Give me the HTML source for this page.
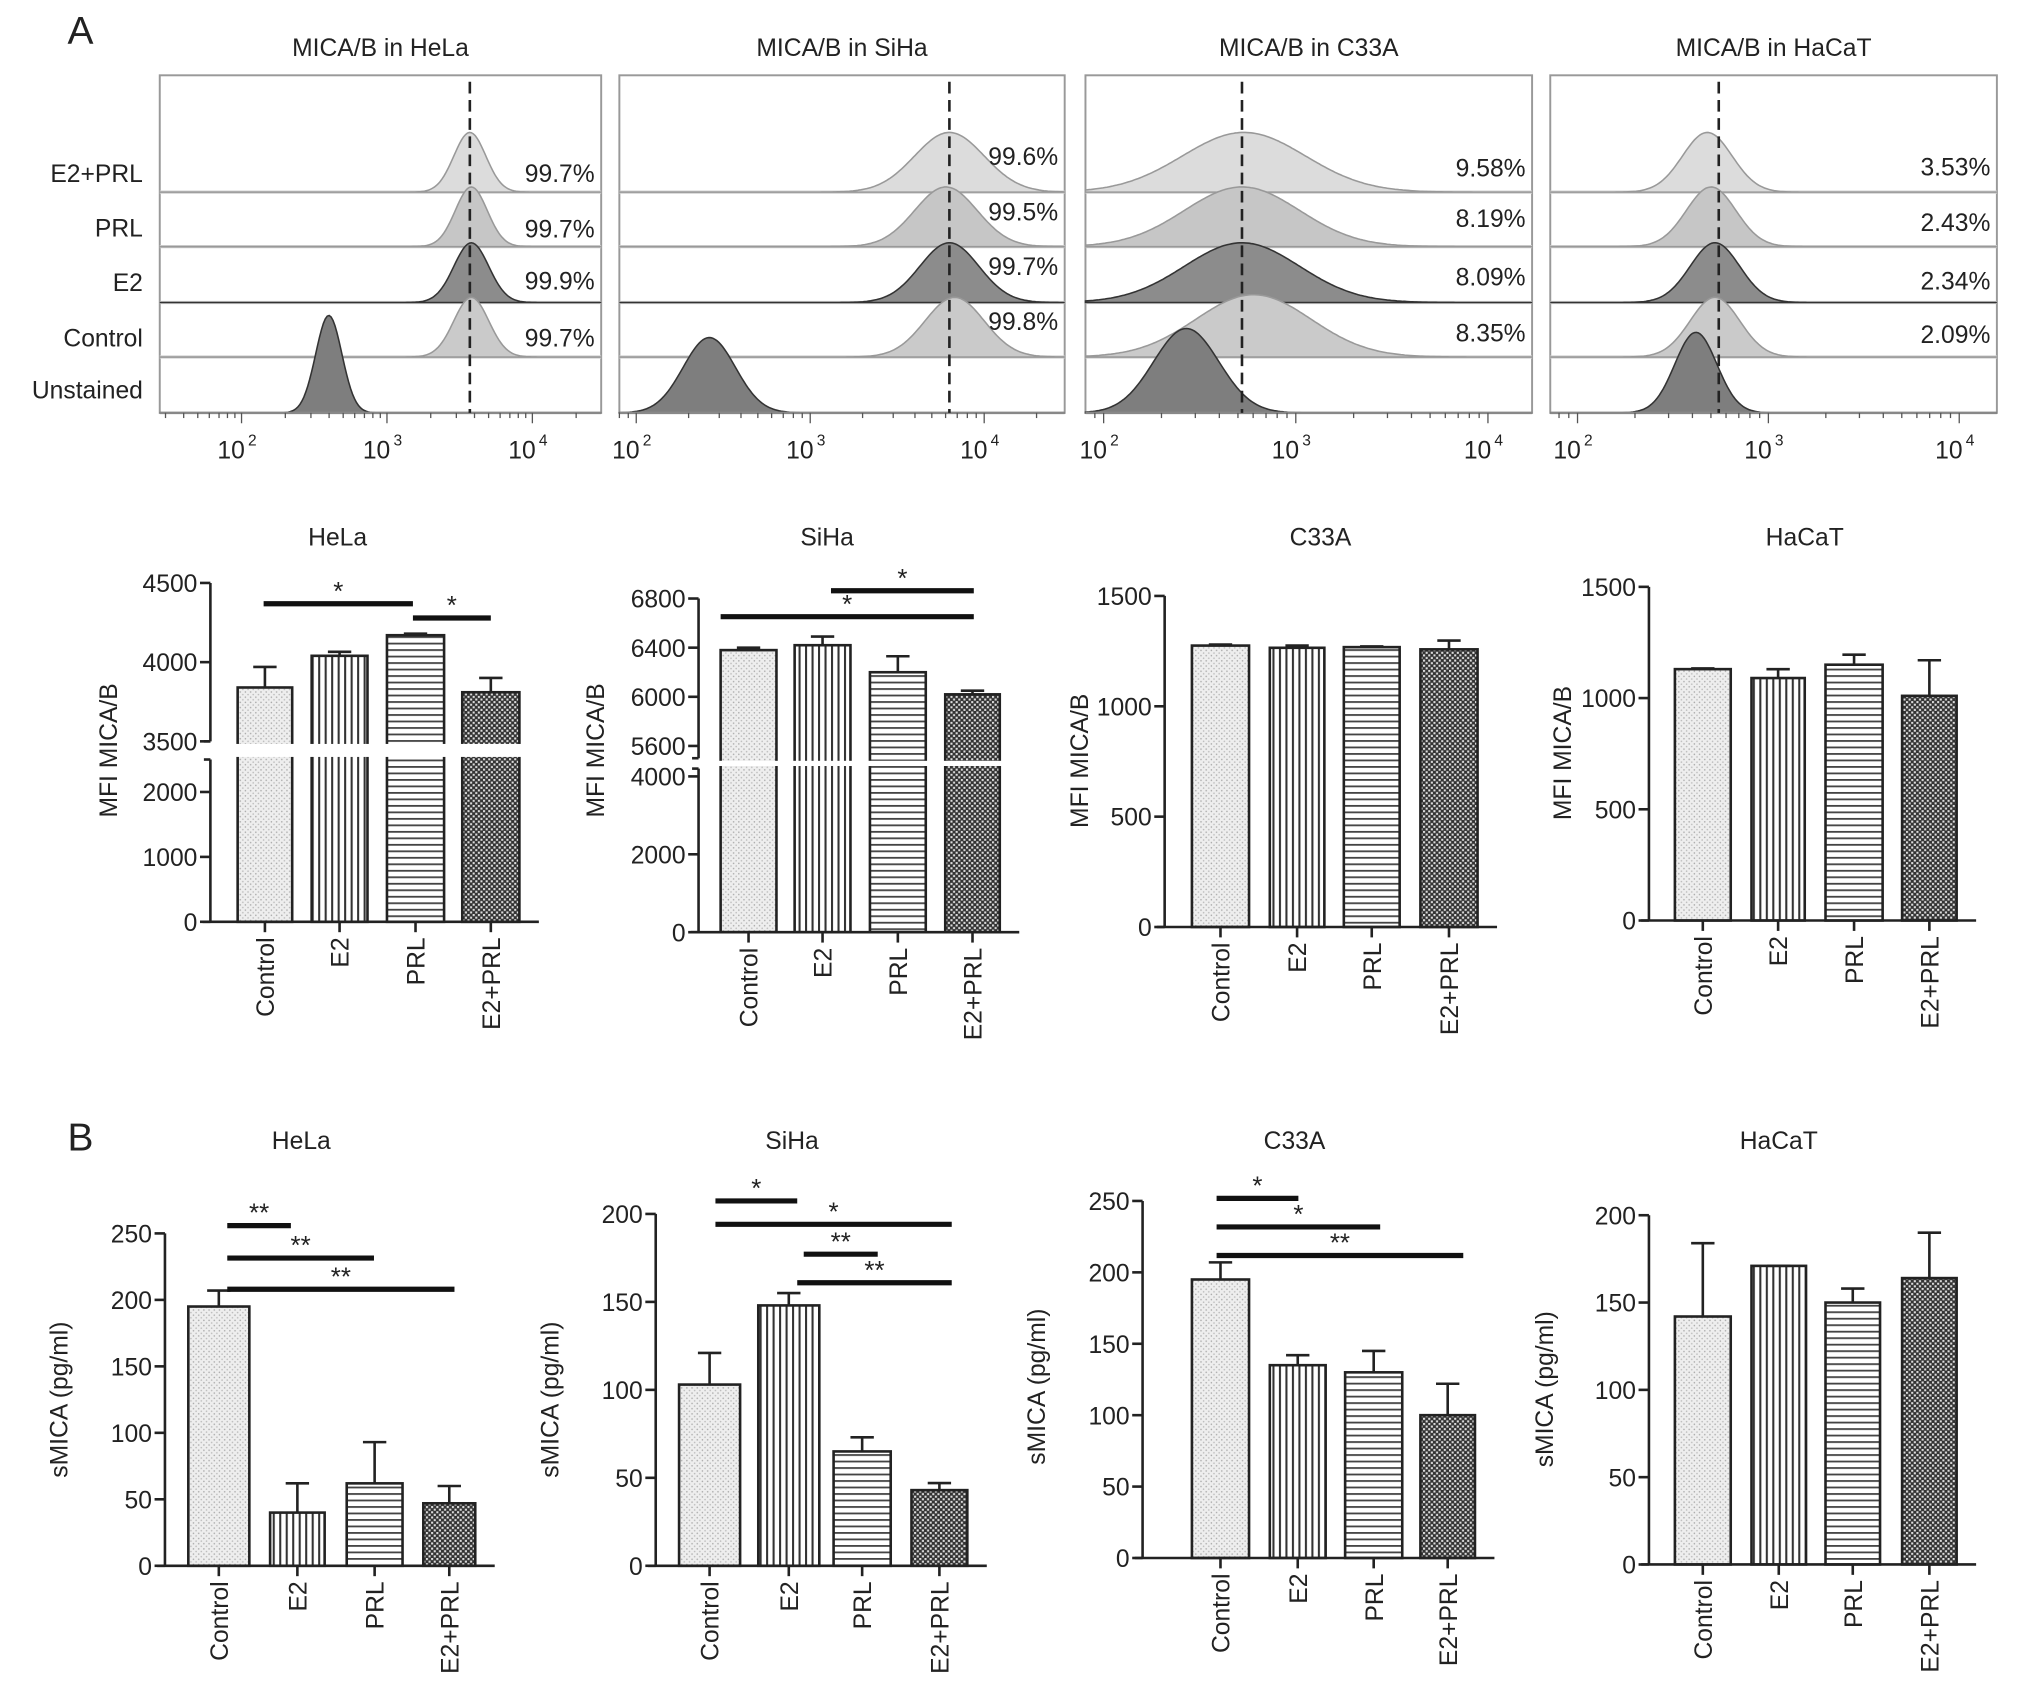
<!DOCTYPE html>
<html><head><meta charset="utf-8"><style>
html,body{margin:0;padding:0;background:#fff}
svg{display:block}
text{font-family:"Liberation Sans",Arial,sans-serif;fill:#222}
</style></head><body>
<svg id="fig" width="2032" height="1706" viewBox="0 0 1565 1314" xmlns="http://www.w3.org/2000/svg">
<defs>
<pattern id="pDots" width="4" height="4" patternUnits="userSpaceOnUse"><rect width="4" height="4" fill="#eeeeee"/><circle cx="1" cy="1" r="0.6" fill="#aaa"/><circle cx="3" cy="3" r="0.6" fill="#bbb"/></pattern>
<pattern id="pVert" width="5" height="5" patternUnits="userSpaceOnUse"><rect width="5" height="5" fill="#fff"/><rect x="0" width="1.6" height="5" fill="#333"/></pattern>
<pattern id="pHorz" width="5" height="5" patternUnits="userSpaceOnUse"><rect width="5" height="5" fill="#fff"/><rect y="0" width="5" height="1.4" fill="#444"/></pattern>
<pattern id="pCheck" width="4" height="4" patternUnits="userSpaceOnUse"><rect width="4" height="4" fill="#333"/><rect x="0" y="0" width="1.6" height="1.6" fill="#ddd"/><rect x="2" y="2" width="1.6" height="1.6" fill="#ddd"/></pattern>
</defs>
<text x="52" y="34" font-size="30">A</text>
<text x="52" y="886" font-size="30">B</text>
</svg>
<script>
const NS='http://www.w3.org/2000/svg';
const svg=document.getElementById('fig');
function el(tag,attrs,parent,txt){const e=document.createElementNS(NS,tag);for(const k in attrs)e.setAttribute(k,attrs[k]);if(txt!==undefined)e.textContent=txt;(parent||svg).appendChild(e);return e;}

// ---------- data ----------
const categories=['Control','E2','PRL','E2+PRL'];
const flowRows=['E2+PRL','PRL','E2','Control','Unstained'];
const flowTitles=['MICA/B in HeLa','MICA/B in SiHa','MICA/B in C33A','MICA/B in HaCaT'];
const flowPercents=[['99.7%','99.7%','99.9%','99.7%'],['99.6%','99.5%','99.7%','99.8%'],['9.58%','8.19%','8.09%','8.35%'],['3.53%','2.43%','2.34%','2.09%']];
const flowPeakLog=[[3.57,3.58,3.58,3.58,2.6],[3.8,3.78,3.8,3.83,2.42],[2.73,2.72,2.72,2.78,2.43],[2.68,2.7,2.72,2.72,2.62]];
const flowPeakWidth=[[0.11,0.11,0.12,0.12,0.09],[0.2,0.18,0.17,0.17,0.15],[0.32,0.3,0.3,0.3,0.17],[0.13,0.13,0.13,0.13,0.11]];
const flowCutoffLog=[3.57,3.8,2.72,2.74];

const helaMfiVals=[3840,4040,4170,3810];
const helaMfiErrs=[130,25,10,90];
const sihaMfiVals=[6380,6420,6200,6020];
const sihaMfiErrs=[20,70,130,30];
const c33aMfiVals=[1275,1265,1268,1258];
const c33aMfiErrs=[5,10,3,40];
const hacatMfiVals=[1130,1090,1150,1010];
const hacatMfiErrs=[3,40,45,160];

const helaSmicaVals=[195,40,62,47];
const helaSmicaErrs=[12,22,31,13];
const sihaSmicaVals=[103,148,65,43];
const sihaSmicaErrs=[18,7,8,4];
const c33aSmicaVals=[195,135,130,100];
const c33aSmicaErrs=[12,7,15,22];
const hacatSmicaVals=[142,171,150,164];
const hacatSmicaErrs=[42,0,8,26];

// ---------- flow panels ----------
const flowLayout=[
 {x0:123,x1:463,d2:186,dec:112},
 {x0:477,x1:820,d2:490,dec:134},
 {x0:836,x1:1180,d2:850,dec:148},
 {x0:1194,x1:1538,d2:1215,dec:147}];
const flowPctPos=[[133,176,216,260],[120,163,205,247],[129,168,213,256],[128,171,216,257]];
const rowBase=[148,190,233,275,318];
const rowColor=['#dcdcdc','#c6c6c6','#8c8c8c','#cacaca','#7e7e7e'];
const panelTop=58;
flowLayout.forEach((L,p)=>{
  const g=el('g',{});
  
  
  const xs=v=>L.d2+(v-2)*L.dec;
  const t=el('text',{x:(L.x0+L.x1)/2,y:43,'font-size':19,'text-anchor':'middle'},g,flowTitles[p]);
  
  el('rect',{x:L.x0,y:panelTop,width:L.x1-L.x0,height:318-panelTop,fill:'#fff',stroke:'#999','stroke-width':1.5},g);
  for(let r=0;r<4;r++) el('line',{x1:L.x0,x2:L.x1,y1:rowBase[r],y2:rowBase[r],stroke:'#d0d0d0','stroke-width':2.5},g);
  for(let r=0;r<5;r++){
    const c=flowPeakLog[p][r],w=flowPeakWidth[p][r],base=rowBase[r];
    const h=r===4?(p===0?75:(p===1?58:(p===2?65:62))):(r===3&&p===2?48:46);
    let d='M'+L.x0+','+base;
    for(let x=L.x0;x<=L.x1;x+=1.5){const v=2+(x-L.d2)/L.dec;const y=base-h*Math.exp(-0.5*Math.pow((v-c)/w,2));d+=' L'+x.toFixed(1)+','+y.toFixed(1);}
    d+=' L'+L.x1+','+base+' Z';
    const hp=el('path',{d:d,fill:rowColor[r],stroke:r===4||r===2?'#333':'#999','stroke-width':1.2},g);
    
    
  }
  el('line',{x1:L.x0,x2:L.x1,y1:318,y2:318,stroke:'#888','stroke-width':2},g);
  for(let dcd=1;dcd<=4;dcd++)for(let m=1;m<10;m++){const v=dcd+Math.log10(m);const x=xs(v);if(x<L.x0||x>L.x1)continue;el('line',{x1:x,x2:x,y1:318,y2:m===1?326:322,stroke:'#555','stroke-width':1},g);}
  [2,3,4].forEach(e=>{const tx=el('text',{x:xs(e)-8,y:353,'font-size':19,'text-anchor':'middle'},g,'10');el('text',{x:xs(e)+5,y:343,'font-size':12},g,String(e));});
  const cx=xs(flowCutoffLog[p]);
  const cl=el('line',{x1:cx,x2:cx,y1:panelTop+5,y2:318,stroke:'#222','stroke-width':2,'stroke-dasharray':'9,5'},g);
  
  flowPercents[p].forEach((s,i)=>{const tx=el('text',{x:L.x1-5,y:flowPctPos[p][i]+7,'font-size':19,'text-anchor':'end'},g,s);});
  if(p===0){const ry=[133,175,217,260,300];flowRows.forEach((s,i)=>{const tx=el('text',{x:110,y:ry[i]+7,'font-size':19,'text-anchor':'end'},g,s);});}
});

// ---------- bar charts ----------
const fills=['url(#pDots)','url(#pVert)','url(#pHorz)','url(#pCheck)'];
function barChart(c,vals,errs){
  const g=el('g',{});
  
  
  const ys=v=>{let s=c.segs[0];for(const sg of c.segs){if(v>=sg.v0-1e-9)s=sg;}return s.p0+(v-s.v0)*(s.p1-s.p0)/(s.v1-s.v0);};
  const tt=el('text',{x:c.tx,y:c.ty,'font-size':19,'text-anchor':'middle'},g,c.title);
  
  const base=ys(0);
  vals.forEach((v,i)=>{
    const bx0=c.bars[i][0],bx1=c.bars[i][1];const y=ys(v);
    const b=el('rect',{x:bx0,y:y,width:bx1-bx0,height:base-y,fill:fills[i],stroke:'#222','stroke-width':2},g);
    
    
    const cx=(bx0+bx1)/2,ye=ys(v+errs[i]);
    const eb=el('path',{d:`M${cx},${y} L${cx},${ye} M${cx-9},${ye} L${cx+9},${ye}`,stroke:'#222','stroke-width':2,fill:'none'},g);
    
    el('line',{x1:cx,x2:cx,y1:base,y2:base+8,stroke:'#222','stroke-width':2},g);
    const lb=el('text',{transform:`translate(${cx+7},${base+12}) rotate(-90)`,'font-size':19,'text-anchor':'end'},g,categories[i]);
    
  });
  if(c.segs.length>1){
    const gy0=c.segs[0].p1,gy1=c.segs[1].p0;
    el('rect',{x:c.ax-3,y:gy1+2,width:c.bars[3][1]-c.ax+6,height:gy0-gy1-4,fill:'#fff'},g);
    el('line',{x1:c.ax,x2:c.ax,y1:base,y2:gy0,stroke:'#222','stroke-width':2},g);
    el('line',{x1:c.ax,x2:c.ax,y1:gy1,y2:ys(c.segs[1].v1),stroke:'#222','stroke-width':2},g);
    el('line',{x1:c.ax-5,x2:c.ax,y1:gy0,y2:gy0,stroke:'#222','stroke-width':2},g);
    el('line',{x1:c.ax-5,x2:c.ax,y1:gy1,y2:gy1,stroke:'#222','stroke-width':2},g);
  } else {
    el('line',{x1:c.ax,x2:c.ax,y1:base,y2:ys(c.ticks[c.ticks.length-1]),stroke:'#222','stroke-width':2},g);
  }
  const xa=el('line',{x1:c.ax-6,x2:c.bars[3][1]+15,y1:base,y2:base,stroke:'#222','stroke-width':2},g);
  
  c.ticks.forEach(t=>{const y=ys(t);el('line',{x1:c.ax-8,x2:c.ax,y1:y,y2:y,stroke:'#222','stroke-width':2},g);
    const tl=el('text',{x:c.ax-10,y:y+7,'font-size':19,'text-anchor':'end'},g,String(t));});
  const yl=el('text',{transform:`translate(${c.ylx},${c.yly}) rotate(-90)`,'font-size':19,'text-anchor':'middle'},g,c.ylabel);
  
  (c.sig||[]).forEach(s=>{
    const sl=el('line',{x1:s[0],x2:s[1],y1:s[2],y2:s[2],stroke:'#111','stroke-width':4},g);
    
    const st=el('text',{x:(s[0]+s[1])/2,y:s[2]-3,'font-size':20,'text-anchor':'middle'},g,s[3]);
    
  });
}
const barsA1=[[183,225],[240,283],[298,342],[356,400]];
barChart({name:'hela-mfi-chart',title:'HeLa',tx:260,ty:420,ax:162,ylabel:'MFI MICA/B',ylx:90,yly:578,
 segs:[{v0:0,v1:2500,p0:710,p1:585},{v0:3500,v1:4500,p0:571,p1:449}],ticks:[0,1000,2000,3500,4000,4500],bars:barsA1,
 sig:[[203,318,465,'*'],[318,378,476,'*']]},helaMfiVals,helaMfiErrs);
barChart({name:'siha-mfi-chart',title:'SiHa',tx:637,ty:420,ax:538,ylabel:'MFI MICA/B',ylx:465,yly:578,
 segs:[{v0:0,v1:4200,p0:718,p1:592},{v0:5500,v1:6800,p0:584,p1:461}],ticks:[0,2000,4000,5600,6000,6400,6800],bars:[[555,598],[612,655],[670,713],[728,770]],
 sig:[[640,750,455,'*'],[555,750,475,'*']]},sihaMfiVals,sihaMfiErrs);
barChart({name:'c33a-mfi-chart',title:'C33A',tx:1017,ty:420,ax:897,ylabel:'MFI MICA/B',ylx:838,yly:586,
 segs:[{v0:0,v1:1500,p0:714,p1:459}],ticks:[0,500,1000,1500],bars:[[918,962],[978,1020],[1035,1078],[1094,1138]]},c33aMfiVals,c33aMfiErrs);
barChart({name:'hacat-mfi-chart',title:'HaCaT',tx:1390,ty:420,ax:1270,ylabel:'MFI MICA/B',ylx:1210,yly:580,
 segs:[{v0:0,v1:1500,p0:709,p1:452}],ticks:[0,500,1000,1500],bars:[[1290,1333],[1349,1390],[1406,1450],[1465,1507]]},hacatMfiVals,hacatMfiErrs);

barChart({name:'hela-smica-chart',title:'HeLa',tx:232,ty:885,ax:127,ylabel:'sMICA (pg/ml)',ylx:52,yly:1078,
 segs:[{v0:0,v1:250,p0:1206,p1:950}],ticks:[0,50,100,150,200,250],bars:[[145,192],[208,250],[267,310],[326,366]],
 sig:[[175,224,944,'**'],[175,288,969,'**'],[175,350,993,'**']]},helaSmicaVals,helaSmicaErrs);
barChart({name:'siha-smica-chart',title:'SiHa',tx:610,ty:885,ax:505,ylabel:'sMICA (pg/ml)',ylx:430,yly:1078,
 segs:[{v0:0,v1:200,p0:1206,p1:935}],ticks:[0,50,100,150,200],bars:[[523,570],[584,631],[642,686],[702,745]],
 sig:[[551,614,925,'*'],[551,733,943,'*'],[619,676,966,'**'],[614,733,988,'**']]},sihaSmicaVals,sihaSmicaErrs);
barChart({name:'c33a-smica-chart',title:'C33A',tx:997,ty:885,ax:880,ylabel:'sMICA (pg/ml)',ylx:805,yly:1068,
 segs:[{v0:0,v1:250,p0:1200,p1:925}],ticks:[0,50,100,150,200,250],bars:[[918,962],[978,1021],[1036,1080],[1094,1136]],
 sig:[[937,1000,923,'*'],[937,1063,945,'*'],[937,1127,967,'**']]},c33aSmicaVals,c33aSmicaErrs);
barChart({name:'hacat-smica-chart',title:'HaCaT',tx:1370,ty:885,ax:1270,ylabel:'sMICA (pg/ml)',ylx:1196,yly:1070,
 segs:[{v0:0,v1:200,p0:1205,p1:936}],ticks:[0,50,100,150,200],bars:[[1290,1333],[1349,1391],[1406,1448],[1465,1507]]},hacatSmicaVals,hacatSmicaErrs);
</script>
</body></html>
